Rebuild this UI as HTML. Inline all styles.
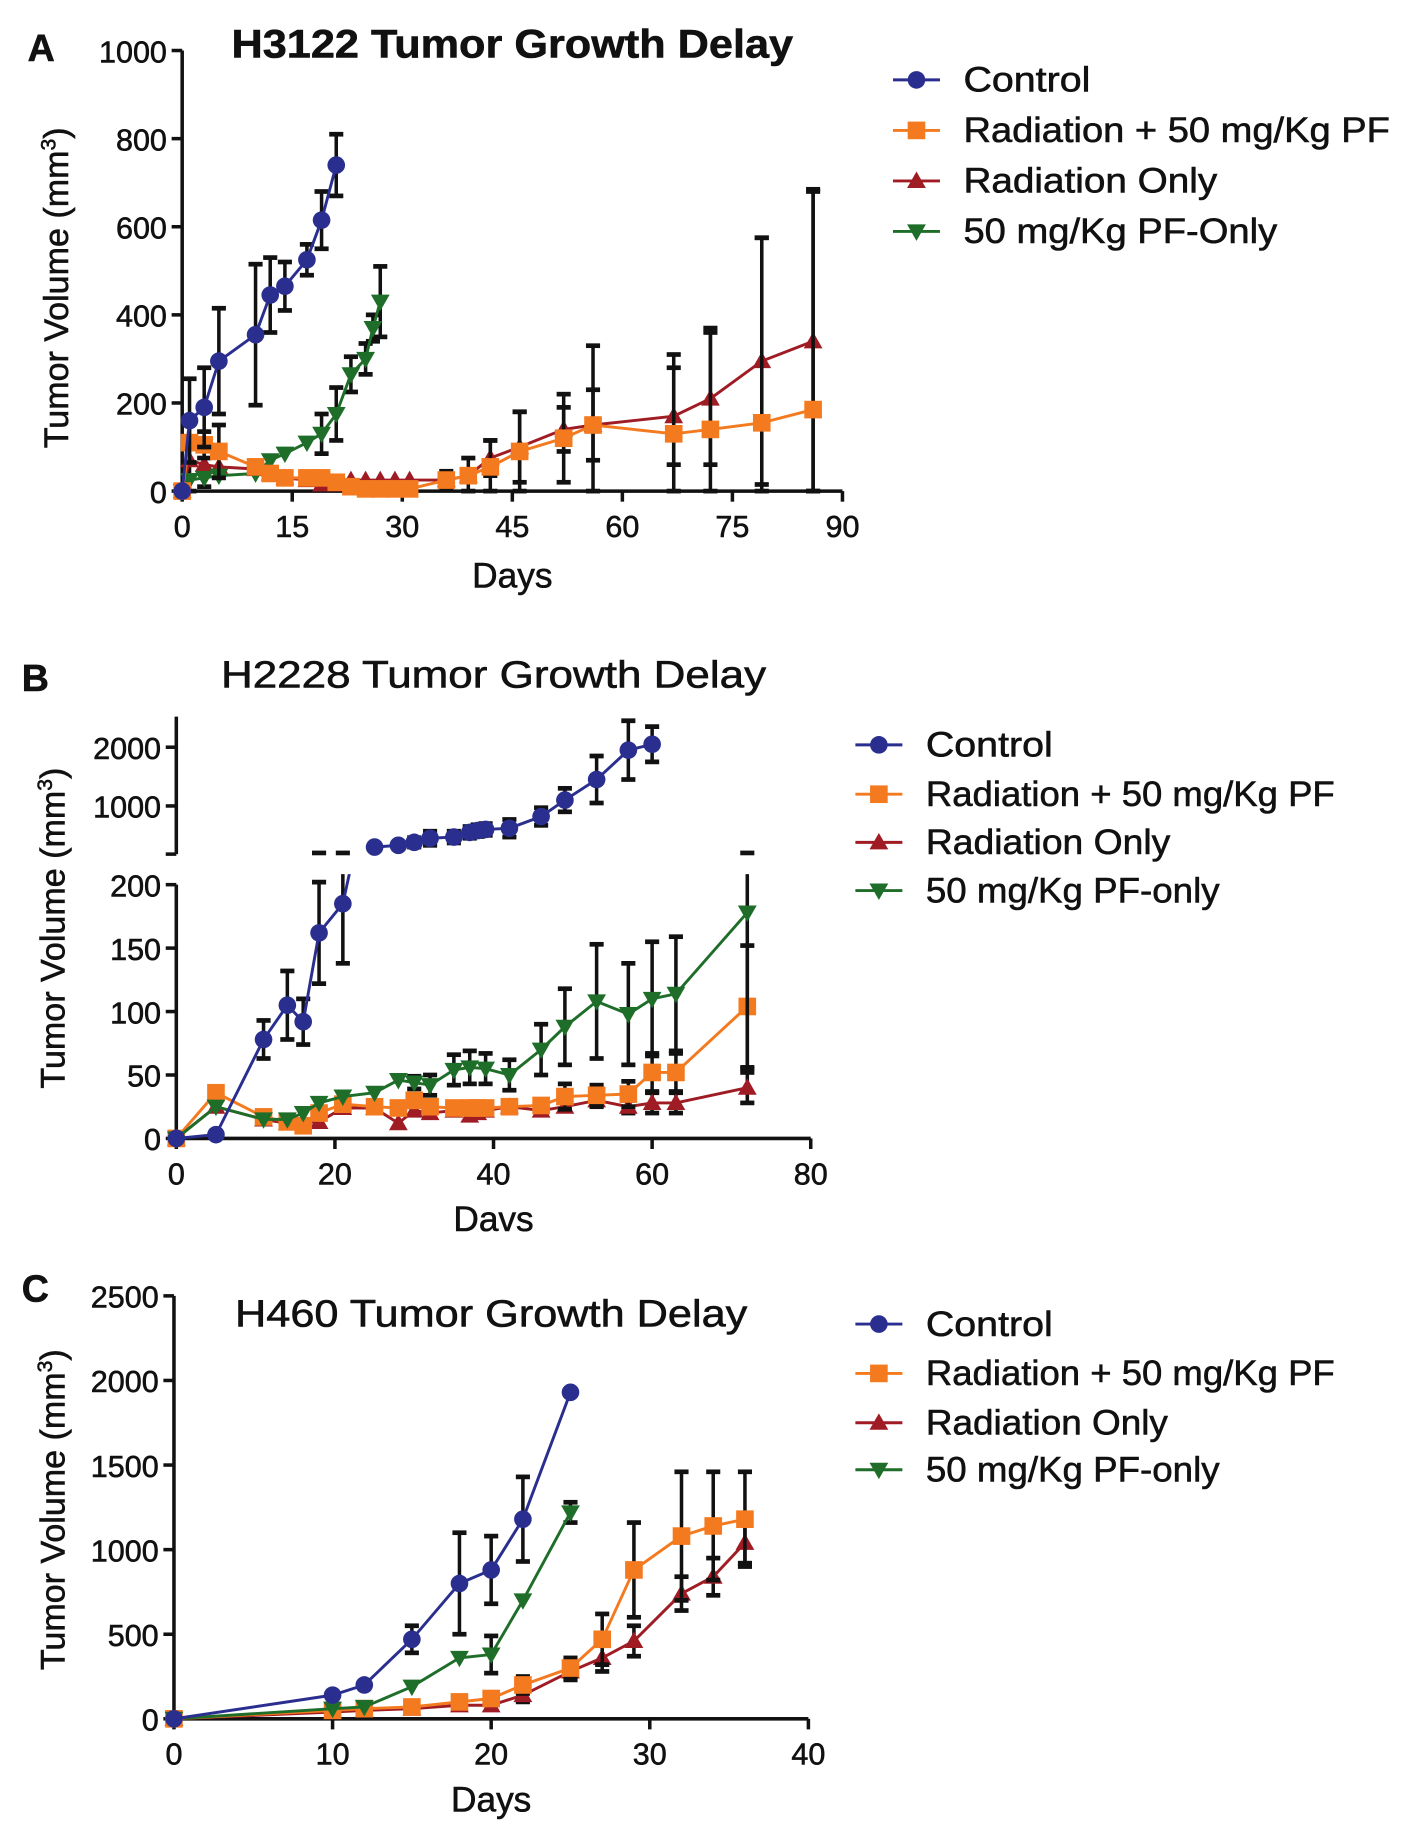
<!DOCTYPE html>
<html><head><meta charset="utf-8"><style>
html,body{margin:0;padding:0;background:#fff;}
svg{display:block;}
text{font-family:"Liberation Sans",Arial,sans-serif;fill:#111;stroke:#111;stroke-width:0.5;}
</style></head><body>
<svg id="fig" width="1410" height="1841" viewBox="0 0 1200 1567"></svg>
<script>
// ---------- Panel A data (H3122) ----------
const aCtrlDays=[0,1,3,5,10,12,14,17,19,21];
const aCtrlVals=[0,160,190,295,355,445,465,525,615,740];
const aCtrlErr=[0,95,90,120,160,85,55,35,65,70];
const aPfDays=[0,1,3,5,10,12,14,17,19,21,23,25,26,27];
const aPfVals=[0,25,30,35,40,70,85,110,130,175,265,300,370,430];
const aPfErr=[0,0,0,0,0,0,0,0,45,60,40,35,30,80];
const aComboDays=[0,1,3,5,10,12,14,17,19,21,23,25,27,29,31,36,39,42,46,52,56,67,72,79,86];
const aComboVals=[0,110,105,90,55,40,30,30,30,20,10,5,5,5,5,25,35,55,90,120,150,130,140,155,185];
const aComboErr=[0,0,30,60,0,0,0,0,0,0,0,0,0,0,0,20,40,60,90,100,180,180,230,420,500];
const aRadDays=[0,1,3,5,10,12,14,17,19,21,23,25,27,29,31,36,39,42,46,52,56,67,72,79,86];
const aRadVals=[0,70,60,55,50,40,30,25,15,15,25,25,25,25,25,25,35,75,100,140,150,170,210,295,340];
const aRadErr=[0,90,50,0,0,0,0,0,0,0,0,0,0,0,0,0,0,40,80,50,80,110,150,280,340];
const aXTicks=[0,15,30,45,60,75,90];
const aYTicks=[0,200,400,600,800,1000];
// ---------- Panel B data (H2228) ----------
const bCtrlLowDays=[0,5,11,14,16,18,21,25];
const bCtrlLowVals=[0,3,78,105,92,162,185,300];
const bCtrlLowErr=[0,0,15,27,18,40,47,0];
const bCtrlHighDays=[25,28,30,32,35,37,38,39,42,46,49,53,57,60];
const bCtrlHighVals=[300,330,380,450,470,550,580,600,620,820,1100,1450,1950,2050];
const bCtrlHighErr=[40,50,80,120,100,100,100,100,150,150,200,400,500,300];
const bPfDays=[0,5,11,14,16,18,21,25,28,30,32,35,37,39,42,46,49,53,57,60,63,72];
const bPfVals=[0,25,15,15,20,28,33,36,46,44,42,54,56,55,50,70,88,108,98,110,114,178];
const bPfErr=[0,0,0,0,0,0,0,0,0,5,8,12,13,12,12,20,30,45,40,45,45,123];
const bComboDays=[0,5,11,14,16,18,21,25,28,30,32,35,37,38,39,42,46,49,53,57,60,63,72];
const bComboVals=[0,36,17,13,10,20,27,25,24,30,25,24,24,24,24,25,26,33,34,35,52,52,104];
const bComboErr=[0,0,0,0,0,0,0,0,0,0,0,0,0,0,0,0,0,10,8,10,15,15,48];
const bRadDays=[0,5,11,14,16,18,21,25,28,30,32,35,37,38,39,42,46,49,53,57,60,63,72];
const bRadVals=[0,25,15,12,13,13,24,24,12,22,20,22,18,20,22,25,22,25,30,25,28,28,40];
const bRadErr=[0,0,0,0,0,0,0,0,0,0,0,0,0,0,0,0,0,0,5,5,8,8,12];
const bXTicks=[0,20,40,60,80];
const bYTicksLow=[0,50,100,150,200];
const bYTicksHigh=[1000,2000];
// ---------- Panel C data (H460) ----------
const cCtrlDays=[0,10,12,15,18,20,22,25];
const cCtrlVals=[0,140,200,470,800,880,1180,1930];
const cCtrlErr=[0,0,0,80,300,200,250,0];
const cPfDays=[0,10,12,15,18,20,22,25];
const cPfVals=[0,60,70,190,360,380,700,1220];
const cPfErr=[0,0,0,0,0,110,0,60];
const cComboDays=[0,10,12,15,18,20,22,25,27,29,32,34,36];
const cComboVals=[0,50,60,70,100,120,200,300,470,880,1080,1140,1180];
const cComboErr=[0,0,0,0,0,0,50,60,150,280,380,320,280];
const cRadDays=[0,10,12,15,18,20,22,25,27,29,32,34,36];
const cRadVals=[0,40,50,60,80,80,140,280,360,460,740,840,1040];
const cRadErr=[0,0,0,0,0,0,40,50,80,90,100,110,120];
const cXTicks=[0,10,20,30,40];
const cYTicks=[0,500,1000,1500,2000,2500];

const NS='http://www.w3.org/2000/svg';
const svg=document.getElementById('fig');
const COL={ctrl:'#2a2f8f',combo:'#f47a20',rad:'#a01c24',pf:'#1e6e2a'};
function el(tag,attrs,parent){const e=document.createElementNS(NS,tag);for(const k in attrs)e.setAttribute(k,attrs[k]);(parent||svg).appendChild(e);return e;}
function txt(s,x,y,size,anchor,weight,parent,len){const a={x:x,y:y,'font-size':size,'text-anchor':anchor||'middle','font-weight':weight||'normal'};if(len){a.textLength=len;a.lengthAdjust='spacingAndGlyphs';}const t=el('text',a,parent);t.textContent=s;return t;}
function marker(kind,x,y,c,g){
  if(kind==='circle')return el('circle',{cx:x,cy:y,r:7.5,fill:c},g);
  if(kind==='square')return el('rect',{x:x-7.5,y:y-7.5,width:15,height:15,fill:c},g);
  if(kind==='up')return el('polygon',{points:`${x},${y-8} ${x-8},${y+6} ${x+8},${y+6}`,fill:c},g);
  return el('polygon',{points:`${x},${y+8} ${x-8},${y-6} ${x+8},${y-6}`,fill:c},g);
}
function series(g,name,days,vals,errs,sx,sy,c,kind,clip){
  const s=el('g',{},g);
  
  
  if(clip)s.setAttribute('clip-path',clip);
  for(let i=0;i<days.length;i++){
    if(errs[i]>0){const x=sx(days[i]);const y1=sy(vals[i]+errs[i]);const y2=sy(Math.max(0,vals[i]-errs[i]));
      el('line',{x1:x,x2:x,y1:y1,y2:y2,stroke:'#111','stroke-width':3},s);
      el('line',{x1:x-6,x2:x+6,y1:y1,y2:y1,stroke:'#111','stroke-width':4},s);
      el('line',{x1:x-6,x2:x+6,y1:y2,y2:y2,stroke:'#111','stroke-width':4},s);}
  }
  el('polyline',{points:days.map((d,i)=>sx(d)+','+sy(vals[i])).join(' '),fill:'none',stroke:c,'stroke-width':2.5},s);
  for(let i=0;i<days.length;i++)marker(kind,sx(days[i]),sy(vals[i]),c,s);
  return s;
}
function legend(g,x0,ys,labels,lens){
  const kinds=['circle','square','up','down'];const cols=[COL.ctrl,COL.combo,COL.rad,COL.pf];
  labels.forEach((l,i)=>{const e=el('g',{},g);
    
    
    el('line',{x1:x0,x2:x0+40,y1:ys[i],y2:ys[i],stroke:cols[i],'stroke-width':2.5},e);
    marker(kinds[i],x0+20,ys[i],cols[i],e);
    txt(l,x0+60,ys[i]+10,30,'start','normal',e,lens[i]);});
}
function xAxis(g,sx,y,ticks,x1,x2){
  el('line',{x1:x1,x2:x2,y1:y,y2:y,stroke:'#111','stroke-width':3},g);
  ticks.forEach(t=>{el('line',{x1:sx(t),x2:sx(t),y1:y,y2:y+9,stroke:'#111','stroke-width':3},g);txt(String(t),sx(t),y+39,26,'middle','normal',g);});
}
function yAxis(g,sy,x,ticks,y1,y2){
  el('line',{x1:x,x2:x,y1:y1,y2:y2,stroke:'#111','stroke-width':3},g);
  ticks.forEach(t=>{el('line',{x1:x-9,x2:x,y1:sy(t),y2:sy(t),stroke:'#111','stroke-width':3},g);txt(String(t),x-13,sy(t)+10,26,'end','normal',g);});
}
function yLabel(g,x,y){const t=el('text',{x:0,y:0,'font-size':29,'text-anchor':'middle',transform:`translate(${x},${y}) rotate(-90)`},g);
  t.innerHTML='Tumor Volume (mm<tspan dy="-11" font-size="18">3</tspan><tspan dy="11">)</tspan>';}
const LEG=['Control','Radiation + 50 mg/Kg PF','Radiation Only'];

// ----- Panel A -----
(function(){
  const g=el('g',{});
  const sx=d=>155+d*(717-155)/90, sy=v=>418-v*(418-43)/1000;
  txt('A',35,52,32,'middle','bold',g);
  txt('H3122 Tumor Growth Delay',436,49,34,'middle','bold',g,478);
  yAxis(g,sy,155,aYTicks,43,418);xAxis(g,sx,418,aXTicks,155,717);
  yLabel(g,58,245);txt('Days',436,500,30,'middle','normal',g);
  series(g,'series-a-radiation-only',aRadDays,aRadVals,aRadErr,sx,sy,COL.rad,'up');
  series(g,'series-a-pf-only',aPfDays,aPfVals,aPfErr,sx,sy,COL.pf,'down');
  series(g,'series-a-radiation-pf',aComboDays,aComboVals,aComboErr,sx,sy,COL.combo,'square');
  series(g,'series-a-control',aCtrlDays,aCtrlVals,aCtrlErr,sx,sy,COL.ctrl,'circle');
  legend(g,760,[68,111,154,197],LEG.concat(['50 mg/Kg PF-Only']),[108,363,216,267]);
})();

// ----- Panel B -----
(function(){
  const g=el('g',{});
  const sx=d=>150+d*(690-150)/80;
  const syL=v=>969-v*(969-753)/200;
  const syH=v=>686-(v-1000)*0.05;
  const defs=el('defs',{},g);
  const c1=el('clipPath',{id:'clipLow'},defs);el('rect',{x:140,y:744,width:600,height:246},c1);
  const c2=el('clipPath',{id:'clipHigh'},defs);el('rect',{x:140,y:560,width:600,height:169},c2);
  txt('B',30,588,32,'middle','bold',g);
  txt('H2228 Tumor Growth  Delay',420,585,32,'middle','normal',g,464);
  xAxis(g,sx,969,bXTicks,150,690);
  yAxis(g,syL,150,bYTicksLow,753,969);
  yAxis(g,syH,150,bYTicksHigh,610,727);
  el('line',{x1:141,x2:150,y1:727,y2:727,stroke:'#111','stroke-width':3},g);
  yLabel(g,55,790);txt('Davs',420,1048,30,'middle','normal',g);
  series(g,'series-b-radiation-only',bRadDays,bRadVals,bRadErr,sx,syL,COL.rad,'up','url(#clipLow)');
  series(g,'series-b-radiation-pf',bComboDays,bComboVals,bComboErr,sx,syL,COL.combo,'square','url(#clipLow)');
  series(g,'series-b-pf-only',bPfDays,bPfVals,bPfErr,sx,syL,COL.pf,'down','url(#clipLow)');
  series(g,'series-b-control-low',bCtrlLowDays,bCtrlLowVals,bCtrlLowErr,sx,syL,COL.ctrl,'circle','url(#clipLow)');
  series(g,'series-b-control-high',bCtrlHighDays,bCtrlHighVals,bCtrlHighErr,sx,syH,COL.ctrl,'circle','url(#clipHigh)');
  [18,21,72].forEach(d=>el('line',{x1:sx(d)-6,x2:sx(d)+6,y1:726,y2:726,stroke:'#111','stroke-width':4},g));
  legend(g,728,[634,676,717,758],LEG.concat(['50 mg/Kg PF-only']),[108,348,208,250]);
})();

// ----- Panel C -----
(function(){
  const g=el('g',{});
  const sx=d=>148+d*(688-148)/40, sy=v=>1463-v*(1463-1103)/2500;
  txt('C',30,1108,32,'middle','bold',g);
  txt('H460 Tumor Growth Delay',418,1129,32,'middle','normal',g,436);
  yAxis(g,sy,148,cYTicks,1103,1463);xAxis(g,sx,1463,cXTicks,148,688);
  yLabel(g,55,1285);txt('Days',418,1542,30,'middle','normal',g);
  series(g,'series-c-radiation-only',cRadDays,cRadVals,cRadErr,sx,sy,COL.rad,'up');
  series(g,'series-c-radiation-pf',cComboDays,cComboVals,cComboErr,sx,sy,COL.combo,'square');
  series(g,'series-c-pf-only',cPfDays,cPfVals,cPfErr,sx,sy,COL.pf,'down');
  series(g,'series-c-control',cCtrlDays,cCtrlVals,cCtrlErr,sx,sy,COL.ctrl,'circle');
  legend(g,728,[1127,1169,1211,1251],LEG.concat(['50 mg/Kg PF-only']),[108,348,206,250]);
})();
</script>
</body></html>
